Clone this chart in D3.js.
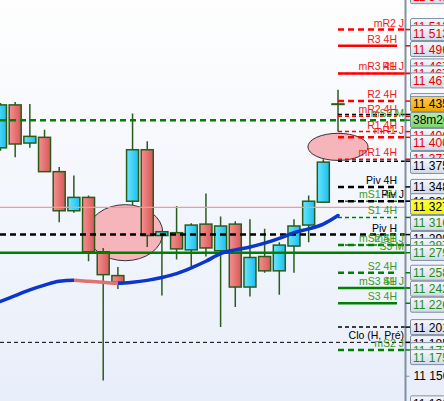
<!DOCTYPE html>
<html><head><meta charset="utf-8">
<script src="https://cdn.jsdelivr.net/npm/d3@7"></script>
<style>html,body{margin:0;padding:0;overflow:hidden;background:#fff}</style>
</head><body><svg id="c" width="444" height="401"></svg>
<script>
// ---------- DATA ----------
// candles: [open, high, low, close]
const candles = [
 [11389,11436,11386,11434],
 [11434,11437,11379,11393],
 [11394,11435,11389,11401],
 [11400,11408,11364,11364],
 [11364,11369,11311,11323],
 [11323,11360,11321,11337],
 [11337,11339,11270,11280],
 [11280,11284,11145,11256],
 [11255,11264,11241,11248],
 [11333,11425,11329,11387],
 [11387,11396,11285,11297],
 [11297,11302,11234,11301],
 [11300,11328,11272,11283],
 [11282,11310,11265,11308],
 [11309,11341,11275,11284],
 [11281,11317,11201,11307],
 [11309,11312,11222,11243],
 [11243,11314,11233,11274],
 [11275,11304,11258,11260],
 [11260,11290,11235,11287],
 [11286,11314,11258,11307],
 [11308,11339,11290,11333],
 [11332,11377,11331,11374],
 [11435,11450,11406,11435]
];
const movingAvg = [11228,11234,11240,11245,11249,11250,11249,11248,11247,11248,11250,11253,11257,11263,11270,11278,11282,11285,11289,11294,11300,11304,11309,11318];

const levelNames  = ["mR2 J","R3 4H","mR3 4H","R1 J","R2 4H","mR2 4H","","mS3 M","R1 4H","mR1 J","mR1 4H","","Piv 4H","mS1 4H","Piv J","S1 4H","Piv H","mS2 4H","mS1 J","S3 M","S2 4H","mS3 4H","S1 J","S3 4H","","Clo (H, Pré)","mS2 J"];
const levelValues = [11513,11496,11467,11467,11438,11422,11424,11418,11406,11400,11377,11375,11348,11333,11333,11316,11298,11287,11287,11279,11258,11242,11242,11226,11201,11185,11177];

const prevClose = 11327;
const countdown = "38m26";

const tagValues = [11548,11513,11513,11496,11467,11467,11467,11438,11406,11400,11377,11375,11348,11333,11316,11298,11287,11279,11258,11242,11226,11201,11185,11177,11175,11121];
const tagKinds  = ["R","R","R","R","R","R","R","R","R","R","R","P","P","P","S","P","S","S","S","S","S","P","P","S","S","P"];
const axisTicks = [11150,11200,11250,11300,11350,11400,11450,11500];

// gap annotations (candle index, price, half width in candles, half height in price)
const gapIndex = [8.5, 23];
const gapPrice = [11300, 11390];
const gapHalfW = [2.56, 2.05];
const gapHalfH = [29.4, 14.2];

// ---------- SCALES ----------
const W = 444, H = 401, axisX = 405.5;
const x = d3.scaleLinear().domain([0, candles.length - 1]).range([0.5, 338]);
const y = d3.scaleLinear().domain([11123.5, 11544]).range([H, 0]);
const fmt = d3.formatLocale({decimal: ".", thousands: " ", grouping: [3], currency: ["", ""]}).format(",d");

const svg = d3.select("#c");
const defs = svg.append("defs");
function lg(id, x2, y2, stops) {
  const g = defs.append("linearGradient").attr("id", id).attr("x1", 0).attr("y1", 0).attr("x2", x2).attr("y2", y2);
  stops.forEach(s => g.append("stop").attr("offset", s[0]).attr("stop-color", s[1]));
}
lg("bg", 0, 1, [[0, "#fefefe"], [1, "#e8eefa"]]);
lg("red", 1, 0, [[0, "#f59090"], [1, "#d85858"]]);
lg("cyan", 1, 0, [[0, "#66e8ff"], [1, "#1fbcee"]]);
lg("box", 0, 1, [[0, "#f6f8fc"], [1, "#d2dae6"]]);
lg("orange", 0, 1, [[0, "#ffd24a"], [1, "#f0a400"]]);
lg("yellow", 0, 1, [[0, "#ffff40"], [1, "#f4f400"]]);
lg("green", 0, 1, [[0, "#b4f0a0"], [1, "#7cd46a"]]);
defs.append("clipPath").attr("id", "plot").append("rect").attr("x", 0).attr("y", 0).attr("width", axisX).attr("height", H);

svg.append("rect").attr("width", W).attr("height", H).attr("fill", "url(#bg)");
const plot = svg.append("g").attr("clip-path", "url(#plot)");

// ---------- GAP ELLIPSES ----------
const pxPerIdx = x(1) - x(0), pxPerPt = y(0) - y(1);
plot.selectAll("ellipse.gap").data(gapIndex).join("ellipse")
  .attr("cx", d => x(d)).attr("cy", (d, i) => y(gapPrice[i]))
  .attr("rx", (d, i) => gapHalfW[i] * pxPerIdx).attr("ry", (d, i) => gapHalfH[i] * pxPerPt)
  .attr("fill", "#f6b4bb").attr("stroke", "#333").attr("stroke-width", 1);

// ---------- CANDLES ----------
const cw = 12, edge = "#2a5c1c";
const cg = plot.selectAll("g.c").data(candles).join("g");
cg.append("line").attr("x1", (d, i) => x(i)).attr("x2", (d, i) => x(i))
  .attr("y1", d => y(d[1])).attr("y2", d => y(d[2])).attr("stroke", edge).attr("stroke-width", 1.5);
cg.append("rect").attr("x", (d, i) => x(i) - cw / 2).attr("width", cw)
  .attr("y", d => y(Math.max(d[0], d[3])))
  .attr("height", d => Math.max(0.5, Math.abs(y(d[0]) - y(d[3]))))
  .attr("fill", d => d[3] > d[0] ? "url(#cyan)" : (d[3] < d[0] ? "url(#red)" : edge))
  .attr("stroke", edge).attr("stroke-width", 1.5);

// ---------- LEVEL LINES ----------
const lastX = x(candles.length - 1);
function colorOf(n) { return /^m?R/.test(n) ? "#ff0000" : (/^m?S/.test(n) ? "#008000" : "#000"); }
function textColorOf(n) { return /^m?R/.test(n) ? "#f01818" : (/^m?S/.test(n) ? "#3a9a26" : "#000"); }
function isFull(n) { return / H$| M$|\(H, Pré\)/.test(n); }
function lineEnd(n) { return isFull(n) ? axisX : (/4H$/.test(n) ? 397 : axisX); }
function styleOf(n) {
  if (/^(R3|S3) 4H$|^(R1|S1) J$|^S3 M$/.test(n)) return {w: 2.5, dash: null};
  if (/^Clo/.test(n)) return {w: 1, dash: "4,3"};
  if (/^m.* J$|^Piv|^mS3 M$|^(R2|S2) 4H$/.test(n)) return {w: 2.5, dash: "6,4"};
  return {w: 1.5, dash: "4,3"};
}
const levels = levelNames.map((n, i) => ({n, v: levelValues[i]}));
// prev close thin pink line
plot.append("line").attr("x1", 0).attr("x2", axisX).attr("y1", y(prevClose) + 0.5).attr("y2", y(prevClose) + 0.5)
  .attr("stroke", "#f29a9a").attr("stroke-width", 1.2);
plot.selectAll("line.lv").data(levels).join("line")
  .attr("x1", d => isFull(d.n) ? 0 : lastX).attr("x2", d => lineEnd(d.n))
  .attr("y1", d => y(d.v)).attr("y2", d => y(d.v))
  .attr("stroke", d => colorOf(d.n)).attr("stroke-width", d => styleOf(d.n).w)
  .attr("stroke-dasharray", d => styleOf(d.n).dash);

// ---------- MOVING AVERAGE ----------
const maG = defs.append("linearGradient").attr("id", "ma").attr("gradientUnits", "userSpaceOnUse")
  .attr("x1", x(0)).attr("x2", x(movingAvg.length - 1)).attr("y1", 0).attr("y2", 0);
for (let i = 0; i < movingAvg.length - 1; i++) {
  const col = movingAvg[i + 1] < movingAvg[i] ? "#e07272" : "#0a36cc";
  maG.append("stop").attr("offset", i / (movingAvg.length - 1)).attr("stop-color", col);
  maG.append("stop").attr("offset", (i + 1) / (movingAvg.length - 1)).attr("stop-color", col);
}
plot.append("path").datum(movingAvg)
  .attr("d", d3.line().x((d, i) => x(i)).y(d => y(d)).curve(d3.curveMonotoneX))
  .attr("fill", "none").attr("stroke", "url(#ma)").attr("stroke-width", 3.5).attr("stroke-linecap", "round");

// ---------- LEVEL LABELS ----------
plot.selectAll("text.lv").data(levels.filter(d => d.n)).join("text")
  .attr("x", d => /4H$| H$/.test(d.n) ? 397 : 404).attr("y", d => y(d.v) - 3)
  .attr("text-anchor", "end").attr("font-family", "Liberation Sans, Arial, sans-serif")
  .attr("font-size", 10.5).attr("fill", d => textColorOf(d.n)).text(d => d.n);

// ---------- RIGHT AXIS ----------
const tagH = 16, peek = 7;
const lastClose = candles[candles.length - 1][3];
const blocks = [
  {v: lastClose, top: y(lastClose) - 8, h: 32},
  {v: prevClose, top: y(prevClose) - 8, h: 16}
];
const tags = tagValues.map((v, k) => ({v, kind: tagKinds[k], c: y(v)}));
tags.forEach(t => { t.absorbed = blocks.some(b => t.c >= b.top && t.c <= b.top + b.h); if (t.absorbed) t.top = t.c - 8; });
const seq = tags.filter(t => !t.absorbed).map(t => ({type: "t", t, c: t.c}))
  .concat(blocks.map(b => ({type: "b", b, c: b.top + 8}))).sort((a, b) => a.c - b.c);
let minTop = -Infinity, i = 0;
while (i < seq.length) {
  const s = seq[i];
  if (s.type === "b") { minTop = Math.max(minTop, s.b.top + s.b.h); i++; continue; }
  let j = i;
  while (j + 1 < seq.length && seq[j + 1].type === "t" && seq[j + 1].c - seq[j].c < 12) j++;
  const grp = seq.slice(i, j + 1), n = grp.length;
  let top0 = Math.max(d3.mean(grp, g => g.c) - 8 - (n - 1) * peek / 2, minTop);
  grp.forEach((g, k) => g.t.top = top0 + k * peek);
  minTop = top0 + (n - 1) * peek + tagH;
  i = j + 1;
}
const kindColor = {R: "#e80000", P: "#000", S: "#1e8c1e"};
const kindTick = {R: "#ff0000", P: "#000", S: "#008000"};

// axis line
svg.append("line").attr("x1", axisX).attr("x2", axisX).attr("y1", 0).attr("y2", H).attr("stroke", "#8090a4").attr("stroke-width", 2);
// colored ticks for levels
svg.selectAll("line.tk").data(levels).join("line")
  .attr("x1", axisX).attr("x2", 410).attr("y1", d => y(d.v)).attr("y2", d => y(d.v))
  .attr("stroke", d => colorOf(d.n)).attr("stroke-width", 1.5);

// plain axis ticks not covered by tags
const covered = v => tags.some(t => y(v) + 6 > t.top && y(v) - 6 < t.top + tagH) || blocks.some(b => y(v) + 6 > b.top && y(v) - 6 < b.top + b.h);
const axisG = svg.append("g").attr("transform", `translate(${axisX},0)`)
  .call(d3.axisRight(y).tickValues(axisTicks.filter(v => !covered(v))).tickSize(4).tickPadding(4).tickFormat(fmt));
axisG.select(".domain").remove();
axisG.selectAll("line").attr("stroke", "#8090a4");
axisG.selectAll("text").attr("font-family", "Liberation Sans, Arial, sans-serif").attr("font-size", 12).attr("fill", "#000");

function drawBox(top, fill, text, color) {
  const g = svg.append("g");
  g.append("rect").attr("x", 410.5).attr("y", top + 0.5).attr("width", 40).attr("height", tagH - 1)
    .attr("rx", 1.5).attr("fill", fill).attr("stroke", "#7f8fa2").attr("stroke-width", 1);
  g.append("text").attr("x", 413).attr("y", top + 12.5).attr("font-family", "Liberation Sans, Arial, sans-serif")
    .attr("font-size", 12).attr("fill", color).text(text);
}
tags.slice().sort((a, b) => a.c - b.c).forEach(t => drawBox(t.top, "url(#box)", fmt(t.v), kindColor[t.kind]));
drawBox(blocks[0].top, "url(#orange)", fmt(lastClose), "#000");
drawBox(blocks[0].top + tagH, "url(#green)", countdown, "#000");
drawBox(blocks[1].top, "url(#yellow)", fmt(prevClose), "#000");
</script></body></html>
